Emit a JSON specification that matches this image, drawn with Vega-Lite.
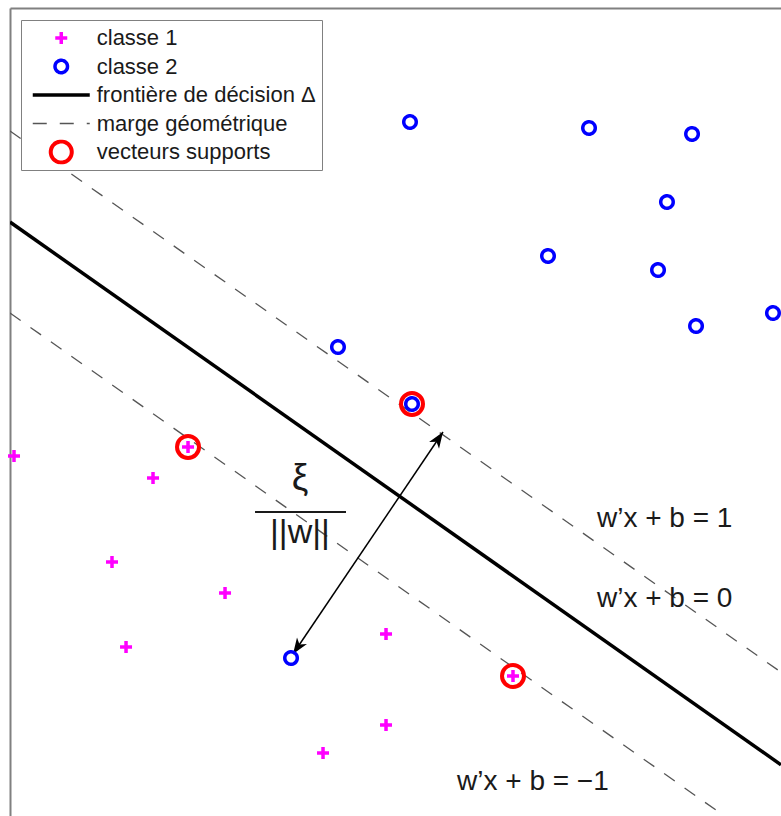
{
  "$schema": "https://vega.github.io/schema/vega-lite/v6.json",
  "width": 771,
  "height": 808,
  "autosize": {"type": "none"},
  "padding": {"left": 10, "top": 8, "right": 0, "bottom": 0},
  "background": "white",
  "config": {
    "view": {"stroke": null},
    "axis": {"domainColor": "#808080", "domainWidth": 2, "ticks": false, "labels": false, "grid": false},
    "text": {"font": "Liberation Sans", "color": "#1a1a1a"}
  },
  "datasets": {
    "points": [
      {"x": 0.052, "y": 4.455, "serie": "classe 1"},
      {"x": 1.855, "y": 4.183, "serie": "classe 1"},
      {"x": 1.323, "y": 3.144, "serie": "classe 1"},
      {"x": 2.789, "y": 2.760, "serie": "classe 1"},
      {"x": 1.505, "y": 2.092, "serie": "classe 1"},
      {"x": 4.877, "y": 2.252, "serie": "classe 1"},
      {"x": 4.877, "y": 1.126, "serie": "classe 1"},
      {"x": 4.060, "y": 0.780, "serie": "classe 1"},
      {"x": 2.309, "y": 4.567, "serie": "classe 1"},
      {"x": 6.524, "y": 1.733, "serie": "classe 1"},
      {"x": 5.188, "y": 8.589, "serie": "classe 2"},
      {"x": 7.510, "y": 8.515, "serie": "classe 2"},
      {"x": 8.846, "y": 8.441, "serie": "classe 2"},
      {"x": 8.521, "y": 7.599, "serie": "classe 2"},
      {"x": 6.978, "y": 6.931, "serie": "classe 2"},
      {"x": 8.405, "y": 6.757, "serie": "classe 2"},
      {"x": 8.898, "y": 6.064, "serie": "classe 2"},
      {"x": 9.896, "y": 6.225, "serie": "classe 2"},
      {"x": 4.254, "y": 5.804, "serie": "classe 2"},
      {"x": 5.214, "y": 5.099, "serie": "classe 2"},
      {"x": 3.645, "y": 1.955, "serie": "classe 2"}
    ],
    "supports": [
      {"x": 2.309, "y": 4.567},
      {"x": 5.214, "y": 5.099},
      {"x": 6.524, "y": 1.733}
    ],
    "frontiere": [
      {"x": 0, "y": 7.351},
      {"x": 10, "y": 0.634}
    ],
    "marges": [
      {"x": 0, "y": 8.478, "cote": "+1"},
      {"x": 10, "y": 1.780, "cote": "+1"},
      {"x": 0, "y": 6.225, "cote": "-1"},
      {"x": 10, "y": -0.493, "cote": "-1"}
    ],
    "fleche": [
      {"x": 3.671, "y": 2.005, "bout": "bas"},
      {"x": 5.616, "y": 4.752, "bout": "haut"}
    ],
    "barre": [
      {"x": 3.178, "x2": 4.358, "y": 3.762}
    ],
    "xi": [
      {"x": 3.761, "y": 4.035, "texte": "ξ"}
    ],
    "norme": [
      {"x": 3.761, "y": 3.379, "texte": "||w||"}
    ],
    "equations": [
      {"x": 7.613, "y": 3.577, "texte": "w’x + b = 1"},
      {"x": 7.613, "y": 2.587, "texte": "w’x + b = 0"},
      {"x": 5.798, "y": 0.322, "texte": "w’x + b = −1"}
    ]
  },
  "layer": [
    {
      "data": {"name": "marges"},
      "mark": {"type": "line", "clip": true, "color": "#555555", "strokeWidth": 1.3, "strokeDash": [13, 12]},
      "encoding": {
        "x": {"field": "x", "type": "quantitative", "scale": {"domain": [0, 10], "nice": false, "zero": false}, "axis": {"orient": "top"}, "title": null},
        "y": {"field": "y", "type": "quantitative", "scale": {"domain": [0, 10], "nice": false, "zero": false}, "title": null},
        "detail": {"field": "cote", "type": "nominal"}
      }
    },
    {
      "data": {"name": "frontiere"},
      "mark": {"type": "line", "clip": true, "color": "#000000", "strokeWidth": 3.5},
      "encoding": {
        "x": {"field": "x", "type": "quantitative", "axis": {"orient": "top"}, "title": null},
        "y": {"field": "y", "type": "quantitative", "title": null}
      }
    },
    {
      "data": {"name": "fleche"},
      "mark": {"type": "line", "color": "#000000", "strokeWidth": 1.5},
      "encoding": {
        "x": {"field": "x", "type": "quantitative", "axis": {"orient": "top"}, "title": null},
        "y": {"field": "y", "type": "quantitative", "title": null}
      }
    },
    {
      "data": {"name": "fleche"},
      "transform": [{"filter": "datum.bout === 'haut'"}],
      "mark": {"type": "point", "shape": "M0,0L0.75,2L0,1.45L-0.75,2Z", "filled": true, "color": "#000000", "opacity": 1, "size": 256, "angle": 34},
      "encoding": {
        "x": {"field": "x", "type": "quantitative", "axis": {"orient": "top"}, "title": null},
        "y": {"field": "y", "type": "quantitative", "title": null}
      }
    },
    {
      "data": {"name": "fleche"},
      "transform": [{"filter": "datum.bout === 'bas'"}],
      "mark": {"type": "point", "shape": "M0,0L0.75,2L0,1.45L-0.75,2Z", "filled": true, "color": "#000000", "opacity": 1, "size": 256, "angle": 214},
      "encoding": {
        "x": {"field": "x", "type": "quantitative", "axis": {"orient": "top"}, "title": null},
        "y": {"field": "y", "type": "quantitative", "title": null}
      }
    },
    {
      "data": {"name": "barre"},
      "mark": {"type": "rule", "color": "#1a1a1a", "strokeWidth": 2},
      "encoding": {
        "x": {"field": "x", "type": "quantitative", "axis": {"orient": "top"}, "title": null},
        "x2": {"field": "x2"},
        "y": {"field": "y", "type": "quantitative", "title": null}
      }
    },
    {
      "data": {"name": "xi"},
      "mark": {"type": "text", "fontSize": 37, "align": "center", "baseline": "alphabetic"},
      "encoding": {
        "x": {"field": "x", "type": "quantitative", "axis": {"orient": "top"}, "title": null},
        "y": {"field": "y", "type": "quantitative", "title": null},
        "text": {"field": "texte"}
      }
    },
    {
      "data": {"name": "norme"},
      "mark": {"type": "text", "fontSize": 34, "align": "center", "baseline": "alphabetic"},
      "encoding": {
        "x": {"field": "x", "type": "quantitative", "axis": {"orient": "top"}, "title": null},
        "y": {"field": "y", "type": "quantitative", "title": null},
        "text": {"field": "texte"}
      }
    },
    {
      "data": {"name": "equations"},
      "mark": {"type": "text", "fontSize": 28, "align": "left", "baseline": "alphabetic"},
      "encoding": {
        "x": {"field": "x", "type": "quantitative", "axis": {"orient": "top"}, "title": null},
        "y": {"field": "y", "type": "quantitative", "title": null},
        "text": {"field": "texte"}
      }
    },
    {
      "data": {"name": "supports"},
      "mark": {"type": "point", "shape": "circle", "filled": false, "color": "#ff0000", "opacity": 1, "strokeWidth": 4, "size": 484},
      "encoding": {
        "x": {"field": "x", "type": "quantitative", "axis": {"orient": "top"}, "title": null},
        "y": {"field": "y", "type": "quantitative", "title": null}
      }
    },
    {
      "data": {"name": "points"},
      "mark": {"type": "point", "filled": false, "opacity": 1},
      "encoding": {
        "x": {"field": "x", "type": "quantitative", "axis": {"orient": "top"}, "title": null},
        "y": {"field": "y", "type": "quantitative", "title": null},
        "color": {
          "field": "serie",
          "type": "nominal",
          "scale": {
            "domain": ["classe 1", "classe 2", "frontière de décision Δ", "marge géométrique", "vecteurs supports"],
            "range": ["#ff00ff", "#0000ff", "#000000", "#555555", "#ff0000"]
          },
          "legend": {
            "title": null,
            "orient": "none",
            "legendX": 11,
            "legendY": 12,
            "padding": 5.5,
            "fillColor": "white",
            "strokeColor": "#808080",
            "labelFont": "Liberation Sans",
            "labelFontSize": 22,
            "labelColor": "#1a1a1a",
            "labelLimit": 400,
            "labelOffset": 23,
            "symbolOffset": 22.25,
            "clipHeight": 25,
            "rowPadding": 3.5
          }
        },
        "shape": {
          "field": "serie",
          "type": "nominal",
          "scale": {
            "domain": ["classe 1", "classe 2", "frontière de décision Δ", "marge géométrique", "vecteurs supports"],
            "range": ["M-1,0L1,0M0,-1L0,1", "circle", "M-4.75,0L4.75,0", "M-4.75,0L4.75,0", "circle"]
          },
          "legend": {"title": null}
        },
        "size": {
          "field": "serie",
          "type": "nominal",
          "scale": {
            "type": "ordinal",
            "domain": ["classe 1", "classe 2", "frontière de décision Δ", "marge géométrique", "vecteurs supports"],
            "range": [144, 156, 144, 144, 441]
          },
          "legend": {"title": null}
        },
        "strokeWidth": {
          "field": "serie",
          "type": "nominal",
          "scale": {
            "type": "ordinal",
            "domain": ["classe 1", "classe 2", "frontière de décision Δ", "marge géométrique", "vecteurs supports"],
            "range": [3.5, 3.5, 3.5, 1.3, 4]
          },
          "legend": {"title": null}
        },
        "strokeDash": {
          "field": "serie",
          "type": "nominal",
          "scale": {
            "domain": ["classe 1", "classe 2", "frontière de décision Δ", "marge géométrique", "vecteurs supports"],
            "range": [[1, 0], [1, 0], [1, 0], [14, 13], [1, 0]]
          },
          "legend": {"title": null}
        }
      }
    }
  ]
}
